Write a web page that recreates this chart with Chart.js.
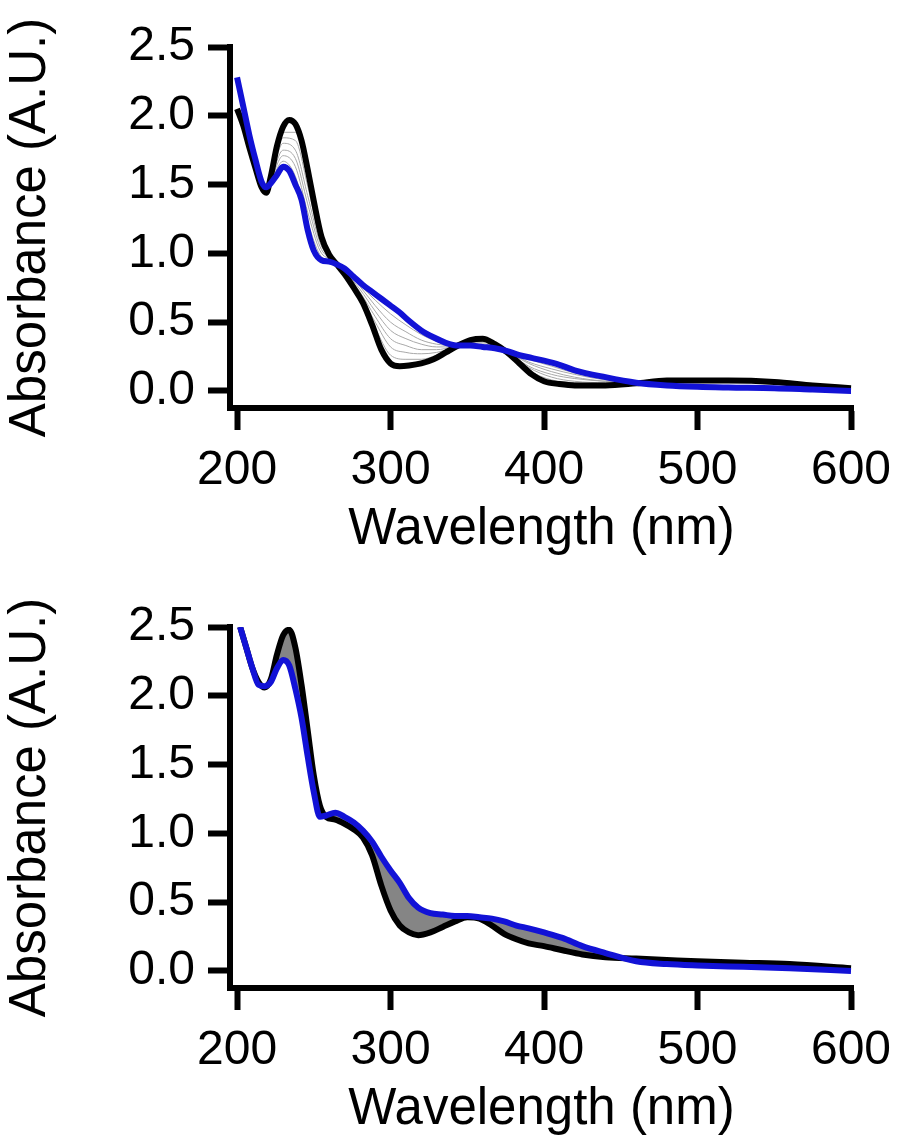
<!DOCTYPE html>
<html>
<head>
<meta charset="utf-8">
<title>UV-Vis titration spectra</title>
<script src="https://cdn.jsdelivr.net/npm/chart.js@4.4.1/dist/chart.umd.min.js"></script>
<style>
    html, body { margin: 0; padding: 0; background: #fff; }
    .panel { position: absolute; left: 0; width: 900px; height: 566px; }
    #panel-top { top: 0; }
    #panel-bottom { top: 580px; }
</style>
</head>
<body>
<div class="panel" id="panel-top"><canvas id="chart-top" width="900" height="566"></canvas></div>
<div class="panel" id="panel-bottom"><canvas id="chart-bottom" width="900" height="566"></canvas></div>
<script>
// axis ticks
const xTicks = [200, 300, 400, 500, 600];
const yTicks = [0, 0.5, 1.0, 1.5, 2.0, 2.5];

// top panel: start (black), end (blue) and intermediate (grey) spectra
const topWl = [200, 204, 208, 212, 216, 219, 222, 226, 230, 234, 238, 242, 246, 250, 255, 260, 265, 270, 276, 282, 288, 294, 300, 306, 312, 320, 328, 336, 344, 352, 360, 368, 376, 384, 392, 400, 410, 420, 440, 460, 480, 500, 520, 550, 575, 600];
const topStart = [2.05, 1.93, 1.77, 1.62, 1.48, 1.44, 1.56, 1.78, 1.92, 1.97, 1.94, 1.82, 1.61, 1.38, 1.12, 0.99, 0.92, 0.85, 0.75, 0.64, 0.48, 0.30, 0.20, 0.18, 0.185, 0.20, 0.23, 0.28, 0.33, 0.37, 0.38, 0.34, 0.28, 0.20, 0.12, 0.07, 0.05, 0.04, 0.04, 0.055, 0.075, 0.075, 0.075, 0.065, 0.04, 0.02];
const topEnd = [2.28, 2.07, 1.86, 1.68, 1.52, 1.48, 1.51, 1.57, 1.63, 1.60, 1.50, 1.39, 1.17, 1.02, 0.95, 0.94, 0.92, 0.89, 0.83, 0.77, 0.72, 0.67, 0.62, 0.57, 0.51, 0.44, 0.39, 0.35, 0.33, 0.33, 0.32, 0.31, 0.29, 0.26, 0.24, 0.22, 0.19, 0.15, 0.10, 0.06, 0.04, 0.03, 0.025, 0.02, 0.01, 0.00];

const topGrayWl = [222, 230, 238, 246, 254, 262, 270, 280, 290, 300, 310, 320, 330, 340, 350, 362, 375, 390, 405, 420, 440, 460];
const topGray1 = [1.57, 1.88, 1.88, 1.55, 1.14, 0.96, 0.86, 0.69, 0.46, 0.26, 0.23, 0.23, 0.26, 0.31, 0.36, 0.36, 0.29, 0.15, 0.08, 0.06, 0.05, 0.06];
const topGray2 = [1.56, 1.84, 1.82, 1.49, 1.11, 0.95, 0.86, 0.70, 0.50, 0.32, 0.28, 0.27, 0.28, 0.31, 0.35, 0.36, 0.29, 0.17, 0.10, 0.07, 0.06, 0.06];
const topGray3 = [1.55, 1.80, 1.75, 1.42, 1.08, 0.95, 0.87, 0.72, 0.54, 0.38, 0.33, 0.30, 0.30, 0.32, 0.35, 0.35, 0.29, 0.18, 0.12, 0.09, 0.07, 0.06];
const topGray4 = [1.54, 1.75, 1.69, 1.36, 1.05, 0.95, 0.87, 0.74, 0.58, 0.44, 0.38, 0.34, 0.32, 0.32, 0.34, 0.34, 0.29, 0.20, 0.14, 0.10, 0.07, 0.06];
const topGray5 = [1.53, 1.71, 1.63, 1.30, 1.02, 0.95, 0.88, 0.76, 0.62, 0.50, 0.43, 0.37, 0.34, 0.33, 0.34, 0.33, 0.29, 0.21, 0.16, 0.12, 0.08, 0.06];
const topGray6 = [1.52, 1.67, 1.56, 1.23, 0.99, 0.94, 0.88, 0.77, 0.66, 0.56, 0.48, 0.41, 0.36, 0.33, 0.33, 0.33, 0.29, 0.23, 0.18, 0.13, 0.09, 0.06];

// bottom panel: start (black) and end (blue) spectra, grey fill in between
const botWl = [202, 206, 210, 214, 218, 222, 226, 230, 234, 238, 242, 246, 250, 254, 258, 264, 270, 276, 282, 288, 294, 300, 306, 312, 318, 326, 334, 342, 350, 358, 366, 374, 382, 390, 400, 412, 425, 440, 460, 480, 500, 530, 560, 600];
const botStart = [2.50, 2.35, 2.20, 2.10, 2.06, 2.12, 2.30, 2.44, 2.48, 2.35, 2.08, 1.75, 1.42, 1.20, 1.12, 1.10, 1.07, 1.03, 0.97, 0.84, 0.62, 0.44, 0.33, 0.28, 0.26, 0.28, 0.32, 0.36, 0.39, 0.38, 0.33, 0.27, 0.23, 0.20, 0.18, 0.15, 0.12, 0.10, 0.09, 0.08, 0.07, 0.06, 0.05, 0.02];
const botEnd = [2.50, 2.35, 2.20, 2.08, 2.07, 2.10, 2.20, 2.26, 2.22, 2.05, 1.84, 1.56, 1.30, 1.12, 1.13, 1.15, 1.12, 1.08, 1.02, 0.94, 0.83, 0.73, 0.64, 0.53, 0.46, 0.42, 0.41, 0.40, 0.40, 0.39, 0.38, 0.36, 0.33, 0.31, 0.28, 0.24, 0.18, 0.13, 0.07, 0.05, 0.04, 0.03, 0.02, 0.00];

const FONT = "'Liberation Sans', Arial, sans-serif";
const BLUE = '#1212d6';

function pts(xs, ys) {
    return xs.map((x, i) => ({ x: x, y: ys[i] }));
}

function line(label, xs, ys, color, width, order) {
    return {
        label: label,
        data: pts(xs, ys),
        borderColor: color,
        borderWidth: width,
        pointRadius: 0,
        cubicInterpolationMode: 'monotone',
        fill: false,
        order: order
    };
}

function makeChart(canvasId, datasets) {
    return new Chart(document.getElementById(canvasId), {
        type: 'line',
        data: { datasets: datasets },
        options: {
            responsive: false,
            animation: false,
            events: [],
            layout: { padding: { top: 47, right: 47, left: 0, bottom: 0 } },
            plugins: { legend: { display: false }, tooltip: { enabled: false } },
            scales: {
                x: {
                    type: 'linear',
                    min: 195.4,
                    max: 601.3,
                    afterBuildTicks: s => { s.ticks = xTicks.map(v => ({ value: v })); },
                    // fixed axis box, and don't let the "600" label shrink the plot
                    afterFit: s => { s.height = 158; s.paddingLeft = 0; s.paddingRight = 0; },
                    border: { display: true, width: 6, color: '#000' },
                    grid: { display: true, drawOnChartArea: false, drawTicks: true, tickLength: 22, tickWidth: 6, tickColor: '#000' },
                    ticks: { color: '#000', font: { family: FONT, size: 48 }, padding: 12, maxRotation: 0, autoSkip: false, callback: v => String(v) },
                    title: { display: true, text: 'Wavelength (nm)', color: '#000', font: { family: FONT, size: 51 }, padding: { top: 0, bottom: 5 } }
                },
                y: {
                    min: -0.124,
                    max: 2.5,
                    afterBuildTicks: s => { s.ticks = yTicks.map(v => ({ value: v })); },
                    afterFit: s => { s.width = 230; s.paddingTop = 0; s.paddingBottom = 0; },
                    border: { display: true, width: 6, color: '#000' },
                    grid: { display: true, drawOnChartArea: false, drawTicks: true, tickLength: 22, tickWidth: 6, tickColor: '#000' },
                    ticks: { color: '#000', font: { family: FONT, size: 48 }, padding: 13, autoSkip: false, callback: v => Number(v).toFixed(1) },
                    title: { display: true, text: 'Absorbance (A.U.)', color: '#000', font: { family: FONT, size: 51 }, padding: { top: 0, bottom: 0 } }
                }
            }
        }
    });
}

// top: blue on top, then black, grey lines underneath
const topGrays = [topGray1, topGray2, topGray3, topGray4, topGray5, topGray6];
makeChart('chart-top', [
    line('end', topWl, topEnd, BLUE, 6, 0),
    line('start', topWl, topStart, '#000', 6, 1),
    ...topGrays.map((g, i) => line('step ' + (i + 1), topGrayWl, g, '#a8a8a8', 1, 2))
]);

// bottom: grey area between start and end
const botStartSet = line('start', botWl, botStart, '#000', 6, 1);
botStartSet.fill = { target: 0, above: '#858585', below: '#858585' };
makeChart('chart-bottom', [
    line('end', botWl, botEnd, BLUE, 6, 0),
    botStartSet
]);
</script>
</body>
</html>
